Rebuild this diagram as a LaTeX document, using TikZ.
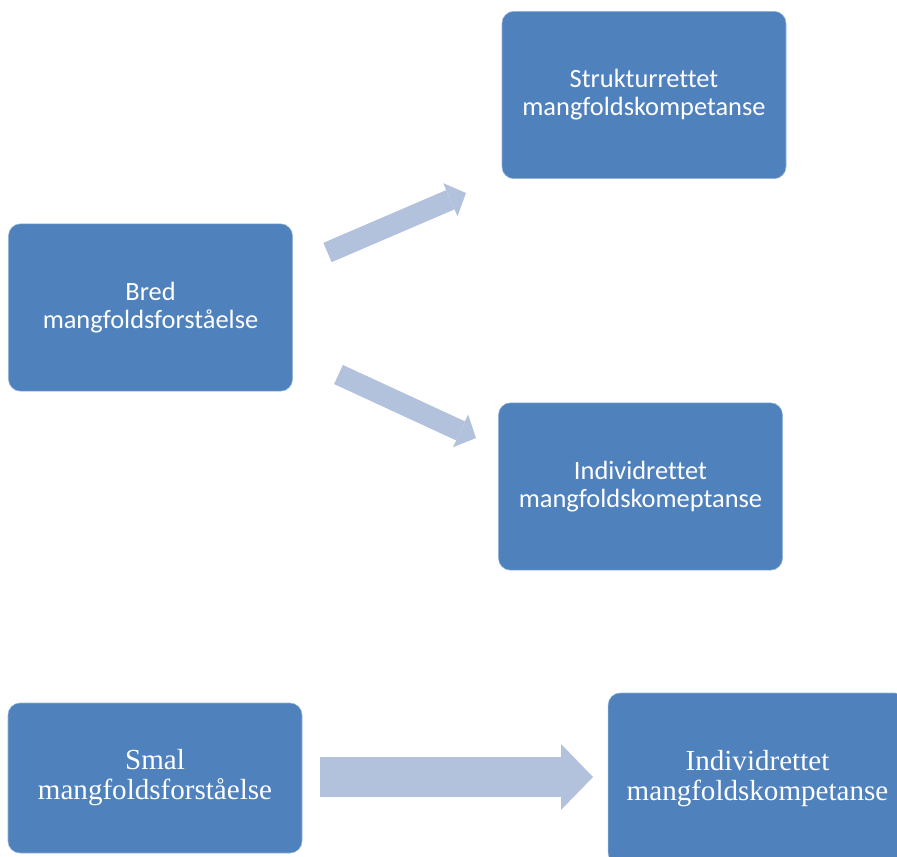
\documentclass[tikz,border=0pt]{standalone}
\usepackage{fontspec}
\setmainfont[Ligatures=NoCommon]{Carlito}
\newfontfamily\timesfont{Liberation Serif}
\usetikzlibrary{arrows.meta}
\definecolor{boxblue}{RGB}{79,129,189}
\definecolor{arrowblue}{RGB}{178,194,221}

\begin{document}
\begin{tikzpicture}[x=0.75pt,y=-0.75pt,
    every node/.style={draw=boxblue!60!white,line width=0.4pt,fill=boxblue,
      rectangle,rounded corners=9pt,text=white,align=center,
      font=\fontsize{19.8}{21}\selectfont},
    topbox/.style={minimum width=213pt,minimum height=125.5pt},
    serifbox/.style={font=\timesfont\fontsize{21.8}{22.5}\selectfont},
    slimarrow/.style={draw=arrowblue,line width=15.75pt,
      -{Triangle[length=12.75pt,width=27pt,line width=0pt]}},
    widearrow/.style={draw=arrowblue,line width=30pt,
      -{Triangle[length=24pt,width=49.5pt,line width=0pt]}}]
  \useasboundingbox (0,0) rectangle (897,857);

  % upper diagram
  \node[topbox] (bred) at (150.5,307.5) {Bred\\mangfoldsforståelse};
  \node[topbox] (struktur) at (644,95) {Strukturrettet\\mangfoldskompetanse};
  \node[topbox] (individ) at (640.5,486.5) {Individrettet\\mangfoldskomeptanse};
  \coordinate (up tail) at (327.5,252.5); \coordinate (up head) at (466,193);
  \coordinate (down tail) at (338.5,374.5); \coordinate (down head) at (476,438);
  \draw[slimarrow] (up tail) -- (up head);
  \draw[slimarrow] (down tail) -- (down head);

  % lower diagram
  \node[serifbox,minimum width=220.5pt,minimum height=112.5pt] (smal) at (155,778)
    {Smal\\mangfoldsforståelse};
  \node[serifbox,minimum width=224pt,minimum height=129pt] (individ2) at (757.5,779)
    {Individrettet\\mangfoldskompetanse};
  \coordinate (flat tail) at (320,777); \coordinate (flat head) at (593,777);
  \draw[widearrow] (flat tail) -- (flat head);
\end{tikzpicture}
\end{document}
